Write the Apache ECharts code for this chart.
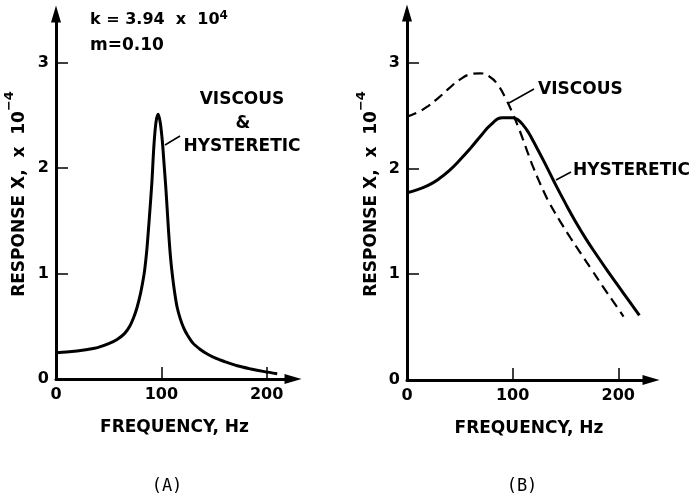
<!DOCTYPE html>
<html>
<head>
<meta charset="utf-8">
<script src="https://cdn.jsdelivr.net/npm/echarts@6/dist/echarts.min.js"></script>
<style>
html,body{margin:0;padding:0;background:#fff;}
#chart{width:696px;height:500px;}
</style>
</head>
<body>
<div id="chart"></div>
<script>
// Panel A: viscous & hysteretic (coincident)
const freqA = [0,10,20,30,40,50,58,65,70,74,77,80,82,84,86,87.5,89,91,93,95,97,99,101,102.5,104,105.5,107,108.5,110.3,112.5,115,118,121,124,130,137,144,152,160,172,185,198,210];
const respA = [0.25,0.255,0.265,0.28,0.30,0.335,0.375,0.43,0.50,0.59,0.68,0.80,0.90,1.02,1.20,1.38,1.58,1.86,2.22,2.44,2.51,2.43,2.25,2.05,1.85,1.62,1.38,1.18,1.00,0.83,0.68,0.57,0.49,0.43,0.34,0.28,0.235,0.195,0.165,0.125,0.095,0.07,0.05];

// Panel B: viscous (dashed)
const freqBV = [0,10,20,30,40,50,60,69,78,86,94,100,105,110,115,120,125,130,135,145,155,165,175,185,195,205];
const respBV = [2.49,2.53,2.59,2.67,2.76,2.84,2.89,2.90,2.87,2.79,2.65,2.52,2.40,2.27,2.13,2.00,1.88,1.77,1.67,1.50,1.34,1.19,1.04,0.89,0.745,0.60];

// Panel B: hysteretic (solid)
const freqBH = [0,10,20,30,40,50,60,70,80,90,100,105,110,115,120,130,140,150,160,170,180,190,200,210,220];
const respBH = [1.77,1.80,1.84,1.90,1.98,2.08,2.19,2.31,2.42,2.48,2.48,2.46,2.41,2.34,2.25,2.06,1.86,1.67,1.49,1.325,1.175,1.03,0.89,0.75,0.61];

const xTicks = [0,100,200];
const yTicks = [0,1,2,3];

const pairs = (xs, ys) => xs.map((x, i) => [x, ys[i]]);

const BOLD = 'DejaVu Sans';
const chart = echarts.init(document.getElementById('chart'), null, {renderer:'canvas'});

function xAxisCfg(gridIndex, max) {
  return {
    type:'value', gridIndex, min:0, max, interval:100,
    name:'FREQUENCY, Hz', nameLocation:'middle', nameGap:40,
    nameTextStyle:{fontFamily:BOLD, fontWeight:'bold', fontSize:17, color:'#000'},
    axisLine:{show:true, symbol:['none','triangle'], symbolSize:[10,17], lineStyle:{color:'#000', width:3}},
    axisTick:{show:true, inside:true, length:12, customValues:xTicks, lineStyle:{color:'#000', width:1.5}},
    axisLabel:{fontFamily:BOLD, fontWeight:'bold', fontSize:16, color:'#000', margin:8, customValues:xTicks,
      formatter: v => xTicks.includes(v) ? String(v) : ''},
    splitLine:{show:false}
  };
}
function yAxisCfg(gridIndex, max) {
  return {
    type:'value', gridIndex, min:0, max, interval:1,
    axisLine:{show:true, symbol:['none','triangle'], symbolSize:[10,17], lineStyle:{color:'#000', width:3}},
    axisTick:{show:true, inside:true, length:12, customValues:yTicks, lineStyle:{color:'#000', width:1.5}},
    axisLabel:{fontFamily:BOLD, fontWeight:'bold', fontSize:16, color:'#000', margin:7, customValues:yTicks,
      formatter: v => yTicks.includes(v) ? String(v) : ''},
    splitLine:{show:false}
  };
}

function yName(x) {
  return {
    type:'text', x, y:194, rotation:Math.PI/2,
    style:{
      text:'{m|RESPONSE X,  x  10}{s|−4}',
      align:'center', verticalAlign:'middle', fill:'#000',
      rich:{
        m:{fontFamily:BOLD, fontWeight:'bold', fontSize:17, fill:'#000'},
        s:{fontFamily:BOLD, fontWeight:'bold', fontSize:13, fill:'#000', padding:[0,0,20,0]}
      }
    }
  };
}
function txt(x, y, text, align, size) {
  return {type:'text', x, y, style:{text, align, verticalAlign:'middle', fill:'#000',
    fontFamily:BOLD, fontWeight:'bold', fontSize:size || 17}};
}
function lead(x1, y1, x2, y2) {
  return {type:'line', shape:{x1, y1, x2, y2}, style:{stroke:'#000', lineWidth:1.5}};
}

const option = {
  backgroundColor:'#fff',
  animation:false,
  grid:[
    {left:56, top:14, width:237, height:365},
    {left:407, top:13, width:244, height:367}
  ],
  xAxis:[xAxisCfg(0, 225), xAxisCfg(1, 231)],
  yAxis:[yAxisCfg(0, 3.46), yAxisCfg(1, 3.47)],
  series:[
    {type:'line', xAxisIndex:0, yAxisIndex:0, data:pairs(freqA, respA), showSymbol:false, smooth:0.3,
      lineStyle:{color:'#000', width:3}},
    {type:'line', xAxisIndex:1, yAxisIndex:1, data:pairs(freqBV, respBV), showSymbol:false, smooth:0.5,
      lineStyle:{color:'#000', width:2.2, type:[10,6]}},
    {type:'line', xAxisIndex:1, yAxisIndex:1, data:pairs(freqBH, respBH), showSymbol:false, smooth:0.5,
      lineStyle:{color:'#000', width:3}}
  ],
  graphic:[
    yName(20), yName(372),
    {type:'text', x:90, y:20, style:{
      text:'{m|k = 3.94  x  10}{s|4}', align:'left', verticalAlign:'middle', fill:'#000',
      rich:{
        m:{fontFamily:BOLD, fontWeight:'bold', fontSize:16, fill:'#000'},
        s:{fontFamily:BOLD, fontWeight:'bold', fontSize:12, fill:'#000', padding:[0,0,9,0]}
      }}},
    txt(90, 46, 'm=0.10', 'left', 17),
    txt(242, 100, 'VISCOUS', 'center'),
    txt(243, 124, '&', 'center'),
    txt(242, 147, 'HYSTERETIC', 'center'),
    lead(165, 145, 180, 136),
    txt(538, 90, 'VISCOUS', 'left'),
    lead(509, 103, 534, 89),
    txt(573, 171, 'HYSTERETIC', 'left'),
    lead(556, 180, 571, 172),
    {type:'text', x:167, y:487, style:{text:'(A)', align:'center', verticalAlign:'middle', fill:'#000',
      fontFamily:'DejaVu Sans Mono', fontSize:17}},
    {type:'text', x:522, y:487, style:{text:'(B)', align:'center', verticalAlign:'middle', fill:'#000',
      fontFamily:'DejaVu Sans Mono', fontSize:17}}
  ]
};
chart.setOption(option);
</script>
</body>
</html>
